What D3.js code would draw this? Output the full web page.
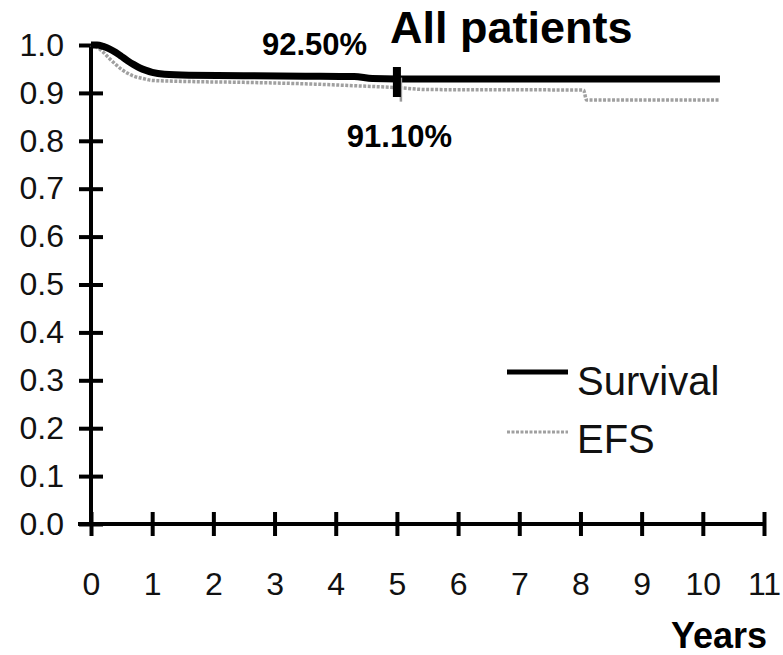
<!DOCTYPE html>
<html>
<head>
<meta charset="utf-8">
<script src="https://cdn.jsdelivr.net/npm/d3@7"></script>
<style>
  body { margin: 0; background: #fff; }
  svg { display: block; font-family: "Liberation Sans", Arial, sans-serif; }
</style>
</head>
<body>
<div id="chart"></div>
<script>
const survivalYears = [0, 0.1, 0.2, 0.3, 0.4, 0.5, 0.6, 0.7, 0.8, 0.9, 1.0, 1.2, 1.6, 2.5, 3.5, 4.3, 4.6, 5.0, 10.28];
const survivalValues = [1.0, 1.0, 0.997, 0.992, 0.985, 0.976, 0.967, 0.959, 0.952, 0.947, 0.943, 0.939, 0.937, 0.936, 0.935, 0.934, 0.930, 0.929, 0.929];
const efsYears = [0, 0.1, 0.2, 0.3, 0.4, 0.5, 0.6, 0.7, 0.85, 1.0, 1.5, 2.5, 3.5, 4.3, 5.0, 5.5, 8.05, 8.1, 10.28];
const efsValues = [1.0, 0.995, 0.985, 0.972, 0.96, 0.949, 0.941, 0.935, 0.93, 0.926, 0.924, 0.922, 0.919, 0.915, 0.911, 0.907, 0.906, 0.885, 0.885];
const censorYears = [5];
const xTicks = d3.range(0, 12);
const yTicks = d3.range(0, 11).map((i) => i / 10);
const seriesNames = ['Survival', 'EFS'];

const width = 783, height = 655;

let svg = d3.select('#chart').append('svg')
    .attr('width', width)
    .attr('height', height);

let x = d3.scaleLinear().domain([0, 11]).range([91, 764]);
let y = d3.scaleLinear().domain([0, 1]).range([524, 45]);

// Axes, with ticks crossing the axis line.
let yAxis = svg.append('g')
    .attr('transform', 'translate(' + x(0) + ',0)')
    .call(d3.axisLeft(y).tickValues(yTicks).tickFormat(d3.format('.1f'))
        .tickSizeInner(12).tickSizeOuter(0).tickPadding(15));

let xAxis = svg.append('g')
    .attr('transform', 'translate(0,' + y(0) + ')')
    .call(d3.axisBottom(x).tickValues(xTicks).tickFormat(d3.format('d'))
        .tickSizeInner(12).tickSizeOuter(0).tickPadding(36));

yAxis.selectAll('.tick line').attr('x1', 12).attr('x2', -12);
xAxis.selectAll('.tick line').attr('y1', -12).attr('y2', 12);
yAxis.select('.domain').attr('d', 'M0,' + y(0) + 'V' + y(1));
xAxis.select('.domain').attr('d', 'M' + (x(0) - 13) + ',0H' + x(11));

svg.selectAll('.domain, .tick line')
    .attr('stroke', '#000')
    .attr('stroke-width', 4);
svg.selectAll('.tick text')
    .attr('fill', '#111')
    .style('font-size', '32px');

// Curves.
let line = d3.line()
    .x((d) => x(d[0]))
    .y((d) => y(d[1]))
    .curve(d3.curveMonotoneX);

let efs = efsYears.map((t, i) => [t, efsValues[i]]);
let survival = survivalYears.map((t, i) => [t, survivalValues[i]]);

svg.append('path')
    .datum(efs)
    .attr('d', line)
    .attr('fill', 'none')
    .attr('stroke', '#a0a0a0')
    .attr('stroke-width', 3.5)
    .attr('stroke-dasharray', '3,1.5');

svg.append('path')
    .datum(survival)
    .attr('d', line)
    .attr('fill', 'none')
    .attr('stroke', '#000')
    .attr('stroke-width', 7);

// Censor marks at 5 years.
const survAt = d3.scaleLinear().domain(survivalYears).range(survivalValues);
const efsAt = d3.scaleLinear().domain(efsYears).range(efsValues);

svg.selectAll('.censor-efs')
    .data(censorYears)
    .enter()
    .append('line')
    .attr('x1', (d) => x(d) + 4)
    .attr('x2', (d) => x(d) + 4)
    .attr('y1', (d) => y(efsAt(d)) - 10)
    .attr('y2', (d) => y(efsAt(d)) + 14)
    .attr('stroke', '#999')
    .attr('stroke-width', 2.5);

svg.selectAll('.censor-surv')
    .data(censorYears)
    .enter()
    .append('rect')
    .attr('x', (d) => x(d) - 4)
    .attr('y', (d) => y(survAt(d)) - 12)
    .attr('width', 8)
    .attr('height', 30)
    .attr('fill', '#000');

// Texts.
svg.append('text')
    .attr('x', 390)
    .attr('y', 43)
    .style('font-size', '45px')
    .style('font-weight', 'bold')
    .text('All patients');

svg.append('text')
    .attr('x', 262)
    .attr('y', 55)
    .style('font-size', '31px')
    .style('font-weight', 'bold')
    .text('92.50%');

svg.append('text')
    .attr('x', 452)
    .attr('y', 147)
    .attr('text-anchor', 'end')
    .style('font-size', '31px')
    .style('font-weight', 'bold')
    .text('91.10%');

svg.append('text')
    .attr('x', 767)
    .attr('y', 648)
    .attr('text-anchor', 'end')
    .style('font-size', '36px')
    .style('font-weight', 'bold')
    .text('Years');

// Legend.
let legend = svg.append('g');
let legendRows = legend.selectAll('g')
    .data(seriesNames)
    .enter()
    .append('g')
    .attr('transform', (d, i) => 'translate(507,' + (372 + i * 60) + ')');

legendRows.append('line')
    .attr('x1', 0)
    .attr('x2', 61)
    .attr('stroke', (d, i) => i === 0 ? '#000' : '#a0a0a0')
    .attr('stroke-width', (d, i) => i === 0 ? 5 : 3)
    .attr('stroke-dasharray', (d, i) => i === 0 ? null : '3,1.5');

legendRows.append('text')
    .attr('x', 70)
    .attr('y', (d, i) => i === 0 ? 23 : 21)
    .style('font-size', '40px')
    .attr('fill', '#111')
    .text((d) => d);
</script>
</body>
</html>
